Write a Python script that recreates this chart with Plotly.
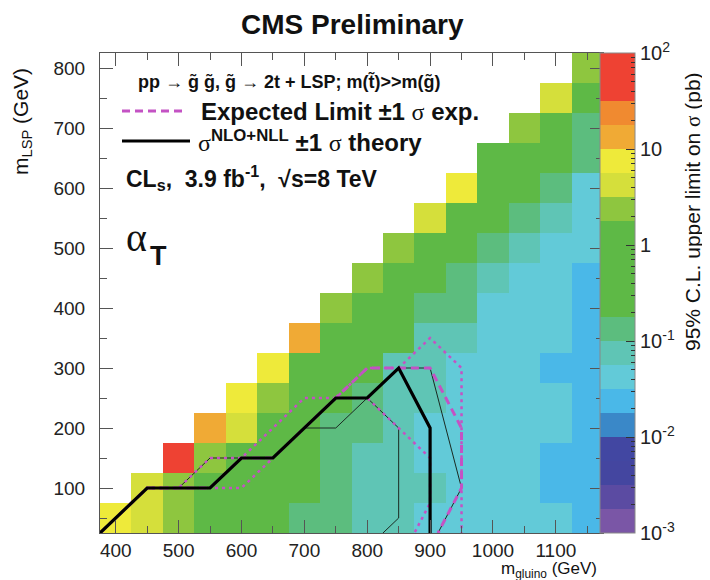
import numpy as np
import plotly.graph_objects as go

# ---------------- data ----------------
m_gluino = [400, 450, 500, 550, 600, 650, 700, 750, 800, 850, 900, 950, 1000, 1050, 1100, 1150]
m_lsp = [50, 100, 150, 200, 250, 300, 350, 400, 450, 500, 550, 600, 650, 700, 750, 800]

# 95% CL upper limit (pb) per gluino mass, listed from m_LSP = 50 upward
ul_400 = [7.2]
ul_450 = [4.5, 4.3]
ul_500 = [2.6, 2.5, 55.0]
ul_550 = [1.1, 1.2, 2.4, 14.0]
ul_600 = [0.8, 0.9, 1.1, 4.4, 7.4]
ul_650 = [0.5, 0.6, 0.7, 0.9, 2.5, 7.0]
ul_700 = [0.15, 0.4, 0.5, 0.6, 0.7, 1.0, 13.5]
ul_750 = [0.14, 0.15, 0.14, 0.15, 0.4, 0.5, 0.7, 2.4]
ul_800 = [0.075, 0.08, 0.075, 0.14, 0.15, 0.3, 0.45, 0.7, 2.3]
ul_850 = [0.07, 0.075, 0.07, 0.075, 0.08, 0.075, 0.3, 0.4, 0.6, 2.2]
ul_900 = [0.045, 0.075, 0.045, 0.045, 0.075, 0.07, 0.075, 0.14, 0.3, 0.5, 4.2]
ul_950 = [0.045, 0.045, 0.045, 0.045, 0.045, 0.045, 0.075, 0.14, 0.15, 0.3, 0.6, 7.3]
ul_1000 = [0.045, 0.045, 0.045, 0.045, 0.045, 0.045, 0.045, 0.045, 0.075, 0.14, 0.3, 0.5, 1.2]
ul_1050 = [0.045, 0.045, 0.045, 0.045, 0.045, 0.045, 0.045, 0.045, 0.045, 0.075, 0.14, 0.3, 0.6, 2.4]
ul_1100 = [0.045, 0.025, 0.025, 0.045, 0.045, 0.025, 0.045, 0.045, 0.045, 0.045, 0.075, 0.14, 0.3, 0.8, 4.3]
ul_1150 = [0.025, 0.025, 0.025, 0.025, 0.025, 0.025, 0.025, 0.025, 0.025, 0.045, 0.045, 0.045, 0.14, 0.15, 0.6, 2.5]

columns = [ul_400, ul_450, ul_500, ul_550, ul_600, ul_650, ul_700, ul_750,
           ul_800, ul_850, ul_900, ul_950, ul_1000, ul_1050, ul_1100, ul_1150]

# exclusion contours (m_gluino, m_LSP) vertices
obs_x = [375, 450, 550, 600, 650, 750, 800, 850, 900, 900]
obs_y = [25, 100, 100, 150, 150, 250, 250, 300, 200, 25]
obs_up_x = [375, 450, 500, 550, 600, 650, 750, 800, 850, 900, 950, 912.5]
obs_up_y = [25, 100, 100, 150, 150, 150, 250, 250, 300, 300, 100, 25]
obs_dn_x = [375, 450, 550, 600, 650, 700, 750, 800, 850, 850, 825]
obs_dn_y = [25, 100, 100, 150, 150, 200, 200, 250, 200, 50, 25]
exp_x = [375, 450, 550, 600, 650, 750, 800, 900, 950, 950, 912.5]
exp_y = [25, 100, 100, 150, 150, 250, 300, 300, 200, 100, 25]
exp_up_x = [375, 450, 500, 550, 600, 700, 750, 800, 850, 900, 950, 950]
exp_up_y = [25, 100, 100, 150, 150, 250, 250, 300, 300, 350, 300, 25]
exp_dn_x = [375, 450, 550, 600, 650, 750, 800, 850, 900, 900, 875]
exp_dn_y = [25, 100, 100, 100, 150, 250, 250, 200, 150, 75, 25]

cbar_tickvals = [-3, -2, -1, 0, 1, 2]
cbar_ticktext = ["10<sup>-3</sup>", "10<sup>-2</sup>", "10<sup>-1</sup>", "1", "10", "10<sup>2</sup>"]

# ---------------- styling ----------------
band_colors = ["#7a56a6", "#5b4ba2", "#4446a0", "#4247a2", "#3a88c8", "#4ab8e8",
               "#62cad8", "#5fc5b5", "#5cbd7e", "#5eb946", "#5eb946", "#5eb946",
               "#5eb946", "#8ec63f", "#d5df3b", "#eeea3a", "#f0aa35", "#f08a30",
               "#ee4233", "#ee4233"]
colorscale = []
nb = len(band_colors)
for k, c in enumerate(band_colors):
    colorscale.append([k / nb, c])
    colorscale.append([(k + 1) / nb, c])

nx, ny = len(m_gluino), len(m_lsp)
z = [[None] * nx for _ in range(ny)]
for i, col in enumerate(columns):
    for j, v in enumerate(col):
        z[j][i] = float(np.log10(v))

L, R, T, B = 92, 595, 45, 525
W, H = R - L, B - T


def fx(px):
    return (px - L) / W


def fy(py):
    return (B - py) / H


FONT = "Liberation Sans"
SERIF = "Liberation Serif"
MAG = "#c452c4"
CB_X = fx(592)

fig = go.Figure()

fig.add_trace(go.Heatmap(
    x=m_gluino, y=m_lsp, z=z, zmin=-3, zmax=2, colorscale=colorscale,
    hoverongaps=False,
    colorbar=dict(
        x=CB_X, xanchor="left", y=0.5, yanchor="middle",
        len=1, lenmode="fraction", thickness=35, thicknessmode="pixels",
        xpad=0, ypad=0, outlinewidth=1, outlinecolor="#888",
        tickvals=cbar_tickvals, ticktext=cbar_ticktext,
        ticks="inside", ticklen=9, tickcolor="#333", tickwidth=1,
        tickfont=dict(family=FONT, size=20, color="#222"),
    ),
))

# minor ticks for the colour bar (transparent second scale)
minor_vals = [float(np.log10(m * 10.0 ** d)) for d in range(-3, 2) for m in range(2, 10)]
fig.add_trace(go.Scatter(
    x=[0], y=[0], mode="markers", hoverinfo="skip", showlegend=False,
    marker=dict(color=[0], cmin=-3, cmax=2, size=1,
                colorscale=[[0, "rgba(0,0,0,0)"], [1, "rgba(0,0,0,0)"]],
                showscale=True,
                colorbar=dict(x=CB_X, xanchor="left", y=0.5, yanchor="middle",
                              len=1, lenmode="fraction", thickness=35, thicknessmode="pixels",
                              xpad=0, ypad=0, outlinewidth=0,
                              tickvals=minor_vals, ticktext=[""] * len(minor_vals),
                              ticks="inside", ticklen=4, tickcolor="#333", tickwidth=1,
                              showticklabels=False)),
))

fig.add_trace(go.Scatter(x=obs_up_x, y=obs_up_y, mode="lines", line=dict(color="#1a2a22", width=1), hoverinfo="skip"))
fig.add_trace(go.Scatter(x=obs_dn_x, y=obs_dn_y, mode="lines", line=dict(color="#1a2a22", width=1), hoverinfo="skip"))
fig.add_trace(go.Scatter(x=exp_up_x, y=exp_up_y, mode="lines", line=dict(color=MAG, width=2.5, dash="3px,4px"), hoverinfo="skip"))
fig.add_trace(go.Scatter(x=exp_dn_x, y=exp_dn_y, mode="lines", line=dict(color=MAG, width=2.5, dash="3px,4px"), hoverinfo="skip"))
fig.add_trace(go.Scatter(x=exp_x, y=exp_y, mode="lines", line=dict(color=MAG, width=3, dash="8px,5px"), hoverinfo="skip"))
fig.add_trace(go.Scatter(x=obs_x, y=obs_y, mode="lines", line=dict(color="#000", width=3.2), hoverinfo="skip"))

axis_common = dict(
    showgrid=False, zeroline=False, showline=True, linecolor="#555", linewidth=1,
    mirror="ticks", ticks="inside", ticklen=13, tickwidth=1, tickcolor="#555",
    tickfont=dict(family=FONT, size=19, color="#222"),
    minor=dict(dtick=50, ticks="inside", ticklen=7, tickwidth=1, tickcolor="#555", showgrid=False),
)
fig.update_xaxes(range=[375, 1175], tick0=400, dtick=100, ticklabelstandoff=0, **axis_common)
fig.update_yaxes(range=[25, 825], tick0=100, dtick=100, ticklabelstandoff=10, **axis_common)

shapes = [
    dict(type="line", xref="paper", yref="paper", x0=fx(114), x1=fx(178), y0=fy(103), y1=fy(103),
         line=dict(color=MAG, width=3, dash="8px,5px")),
    dict(type="line", xref="paper", yref="paper", x0=fx(114), x1=fx(182), y0=fy(133), y1=fy(133),
         line=dict(color="#000", width=3)),
]

sig = '<span style="font-family:Liberation Serif">σ</span>'
ann = [
    dict(text="<b>CMS Preliminary</b>", x=fx(344), y=fy(17), font=dict(size=28)),
    dict(text="<b>pp → g\u0303 g\u0303, g\u0303 → 2t + LSP; m(t\u0303)>>m(g\u0303)</b>",
         x=fx(128), y=fy(73), xanchor="left", font=dict(size=18)),
    dict(text="<b>Expected Limit ±1 </b>" + sig + "<b> exp.</b>",
         x=fx(191), y=fy(103), xanchor="left", font=dict(size=24)),
    dict(text=sig + "<sup><b>NLO+NLL</b></sup> <b>±1 </b>" + sig + "<b> theory</b>",
         x=fx(188), y=fy(133), xanchor="left", font=dict(size=24)),
    dict(text="<b>CL<sub>s</sub>,  3.9 fb<sup>-1</sup>,  √s=8 TeV</b>",
         x=fx(116), y=fy(170), xanchor="left", font=dict(size=23)),
    dict(text="α", x=fx(128), y=fy(230), font=dict(size=40, family=SERIF)),
    dict(text="<b>T</b>", x=fx(150), y=fy(248), font=dict(size=27)),
    dict(text="m<sub>gluino</sub> (GeV)", x=fx(591), y=fy(562), xanchor="right", font=dict(size=17)),
    dict(text="m<sub>LSP</sub> (GeV)", x=fx(14), y=fy(114), textangle=-90, font=dict(size=21)),
    dict(text="95% C.L. upper limit on " + sig + " (pb)", x=fx(685), y=fy(204), textangle=-90,
         font=dict(size=21)),
]
for a in ann:
    a.setdefault("xanchor", "center")
    a.update(xref="paper", yref="paper", yanchor="middle", showarrow=False)
    f = dict(family=FONT, color="#111")
    f.update(a["font"])
    a["font"] = f

fig.update_layout(
    width=710, height=580, margin=dict(l=L, r=710 - R, t=T, b=580 - B),
    paper_bgcolor="white", plot_bgcolor="white", showlegend=False,
    shapes=shapes, annotations=ann,
)

fig.write_html("out.html")
